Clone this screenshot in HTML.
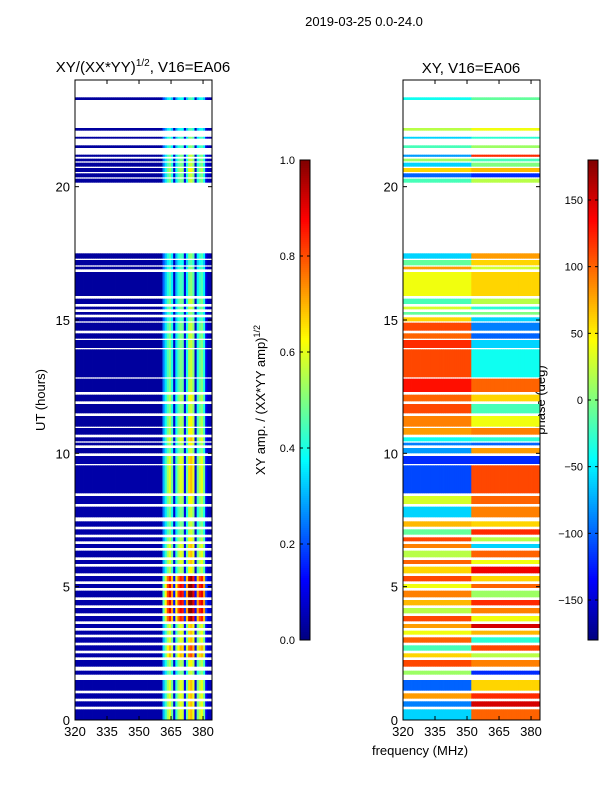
<!DOCTYPE html>
<html><head><meta charset="utf-8"><style>
html,body{margin:0;padding:0;background:#fff;}
svg text{font-family:"Liberation Sans",sans-serif;fill:#000;}
</style></head><body>
<svg id="fig" width="600" height="800" viewBox="0 0 600 800" xmlns="http://www.w3.org/2000/svg">
<text x="364" y="26" font-size="13" text-anchor="middle">2019-03-25 0.0-24.0</text>
<text x="143" y="72" font-size="15" text-anchor="middle">XY/(XX*YY)<tspan font-size="10" dy="-6">1/2</tspan><tspan dy="6">, V16=EA06</tspan></text>
<text x="471" y="73" font-size="15" text-anchor="middle">XY, V16=EA06</text>
<text x="0" y="0" font-size="13" text-anchor="middle" transform="translate(45,400) rotate(-90)">UT (hours)</text>
<text x="420" y="755" font-size="13" text-anchor="middle">frequency (MHz)</text>
<text x="0" y="0" font-size="13" text-anchor="middle" transform="translate(265,400) rotate(-90)">XY amp. / (XX*YY amp)<tspan font-size="9" dy="-5">1/2</tspan></text>
<text x="0" y="0" font-size="13" text-anchor="middle" transform="translate(545,400) rotate(-90)">phase (deg)</text>
<g id="layers"></g>
</svg>
<script>
// data: valid time bands (hours)
const bandStart=[23.25,22.1,21.8,21.45,21.12,20.95,20.75,20.55,20.35,20.15,17.3,17.05,16.9,15.9,15.6,15.4,15.2,14.95,14.6,14.3,13.95,12.85,12.3,11.95,11.5,11.0,10.7,10.45,10.3,10.0,9.6,8.5,8.1,7.6,7.25,6.95,6.7,6.45,6.1,5.85,5.5,5.2,4.95,4.6,4.3,4.0,3.7,3.45,3.2,2.9,2.6,2.35,2.0,1.7,1.1,0.8,0.5,0.0];
const bandEnd  =[23.35,22.2,21.87,21.55,21.2,21.05,20.9,20.7,20.5,20.3,17.5,17.25,17.0,16.8,15.8,15.5,15.3,15.1,14.9,14.5,14.25,13.9,12.8,12.2,11.85,11.4,10.95,10.6,10.4,10.2,9.9,9.55,8.4,8.0,7.45,7.15,6.85,6.6,6.35,6.0,5.75,5.4,5.1,4.85,4.5,4.2,3.9,3.6,3.35,3.1,2.8,2.5,2.25,1.85,1.5,1.0,0.7,0.4];
const ampHigh  =[0.4,0.4,0.45,0.45,0.5,0.5,0.5,0.55,0.5,0.5,0.45,0.4,0.45,0.45,0.5,0.5,0.45,0.45,0.5,0.5,0.5,0.5,0.5,0.55,0.5,0.55,0.55,0.6,0.55,0.5,0.6,0.6,0.55,0.5,0.5,0.5,0.55,0.6,0.6,0.6,0.55,0.85,0.9,0.9,0.9,0.9,0.85,0.6,0.6,0.6,0.7,0.7,0.55,0.5,0.6,0.6,0.6,0.6];
const ampLow   =[0.03,0.03,0.03,0.03,0.03,0.03,0.03,0.03,0.03,0.03,0.03,0.03,0.03,0.03,0.03,0.03,0.03,0.03,0.03,0.03,0.03,0.03,0.03,0.03,0.03,0.03,0.03,0.03,0.03,0.03,0.04,0.04,0.04,0.04,0.04,0.04,0.04,0.04,0.04,0.04,0.04,0.04,0.04,0.04,0.04,0.04,0.04,0.04,0.04,0.04,0.04,0.04,0.04,0.04,0.04,0.04,0.04,0.04];
const phaseLow =[-40,20,-60,-20,-80,10,-60,60,-100,-20,-60,-10,80,40,-20,30,-10,60,110,100,120,110,130,100,110,90,80,-40,-90,-80,-120,-110,30,-60,70,-10,110,90,20,100,60,110,40,90,70,20,110,80,40,100,-20,60,110,10,-100,80,-90,-60];
const phaseHigh=[-10,40,-30,10,120,-20,0,70,-120,20,80,60,30,60,20,-30,0,-60,-90,-100,-60,-40,100,60,-20,40,90,-30,-100,80,-120,110,100,90,60,120,20,-60,100,40,140,60,100,10,120,90,40,150,70,-30,110,20,90,-120,60,120,150,100];
// channel gain across 320..383 MHz (1 MHz channels)
const chanGain=[1,1,1,1,1,1,1,1,1,1,1,1,1,1,1,1,1,1,1,1,1,1,1,1,1,1,1,1,1,1,1,1,1,1,1,1,1,1,1,1,1,0.5,0.7,0.9,1,0.8,0.15,0.7,0.9,1,0.95,0.2,0.8,1.1,1.15,1.0,0.15,0.8,0.95,1,0.8,0.2,0.1,0.1];
const freqTicks=[320,335,350,365,380];
const timeTicks=[0,5,10,15,20];
const ampTicks=[0.0,0.2,0.4,0.6,0.8,1.0];
const phaseTicks=[-150,-100,-50,0,50,100,150];

const NS="http://www.w3.org/2000/svg";
const L=document.getElementById('layers');
function jet(v){v=Math.max(0,Math.min(1,v));
 const r=Math.min(1,Math.max(0,1.5-Math.abs(4*v-3))),g=Math.min(1,Math.max(0,1.5-Math.abs(4*v-2))),b=Math.min(1,Math.max(0,1.5-Math.abs(4*v-1)));
 return 'rgb('+Math.round(r*255)+','+Math.round(g*255)+','+Math.round(b*255)+')';}
function mk(tag,at,parent){const e=document.createElementNS(NS,tag);for(const k in at)e.setAttribute(k,at[k]);(parent||L).appendChild(e);return e;}
const Y0=720,Y1=80;
function yT(t){return Y0-(t/24)*(Y0-Y1);}
function xF(x0,f){return x0+(f-320)*(137/64.2);}
function drawPanel(x0,name,valFn){
 const g=mk('g',{});
 
 
 for(let b=0;b<bandStart.length;b++){
  for(let c=0;c<chanGain.length;c++){
   const r=mk('rect',{x:xF(x0,320+c),y:yT(bandEnd[b]),width:xF(x0,321+c)-xF(x0,320+c)+0.4,height:yT(bandStart[b])-yT(bandEnd[b]),fill:jet(valFn(b,c))},g);
   
   
  }
 }
 const fr=mk('rect',{x:x0,y:Y1,width:137,height:640,fill:'none',stroke:'#000','stroke-width':1});
 
 
 freqTicks.forEach(f=>{const x=xF(x0,f);
  mk('line',{x1:x,x2:x,y1:Y0,y2:Y0-4,stroke:'#000'});mk('line',{x1:x,x2:x,y1:Y1,y2:Y1+4,stroke:'#000'});
  const t=mk('text',{x:x,y:Y0+16,'font-size':13,'text-anchor':'middle'});t.textContent=f;
  
  });
 timeTicks.forEach(v=>{const y=yT(v);
  mk('line',{x1:x0,x2:x0+4,y1:y,y2:y,stroke:'#000'});mk('line',{x1:x0+137,x2:x0+133,y1:y,y2:y,stroke:'#000'});
  const t=mk('text',{x:x0-5,y:y+5,'font-size':13,'text-anchor':'end'});t.textContent=v;
  
  });
}
drawPanel(75,'amplitude-heatmap',(b,c)=>c<41?ampLow[b]:ampHigh[b]*chanGain[c]);
drawPanel(403,'phase-heatmap',(b,c)=>{const p=c<32?phaseLow[b]:phaseHigh[b];return (p+180)/360;});
function colorbar(x0,name,ticks,vmin,vmax,fmt){
 const g=mk('g',{});
 
 
 for(let i=0;i<240;i++){mk('rect',{x:x0,y:160+i*2,width:10,height:2.3,fill:jet(1-(i+0.5)/240)},g);}
 mk('rect',{x:x0,y:160,width:10,height:480,fill:'none',stroke:'#000'},g);
 ticks.forEach(v=>{const y=640-(v-vmin)/(vmax-vmin)*480;
  mk('line',{x1:x0,x2:x0+3,y1:y,y2:y,stroke:'#000'},g);mk('line',{x1:x0+10,x2:x0+7,y1:y,y2:y,stroke:'#000'},g);
  const t=mk('text',{x:x0-5,y:y+4,'font-size':11,'text-anchor':'end'},g);t.textContent=fmt(v);
  
  });
}
colorbar(300,'amp-colorbar',ampTicks,0,1,v=>v.toFixed(1));
colorbar(588,'phase-colorbar',phaseTicks,-180,180,v=>v<0?'\u2212'+(-v):''+v);
</script>
</body></html>
